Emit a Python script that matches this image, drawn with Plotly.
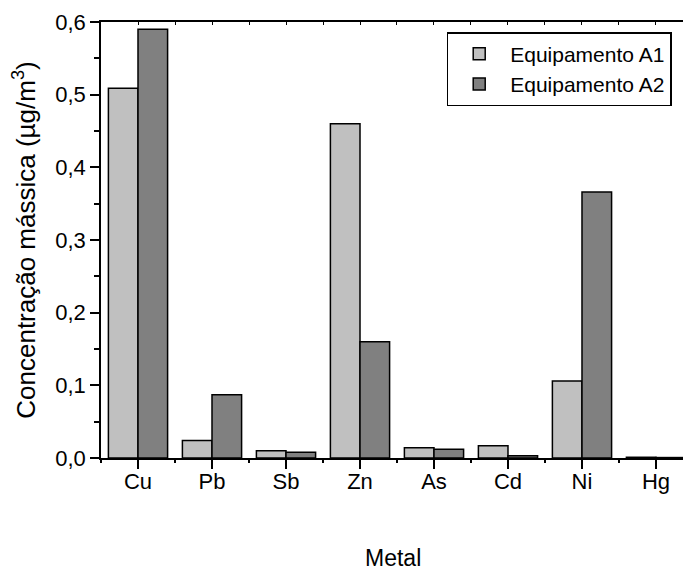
import plotly.graph_objects as go

metals = ["Cu", "Pb", "Sb", "Zn", "As", "Cd", "Ni", "Hg"]
equip_a1 = [0.509, 0.024, 0.010, 0.460, 0.014, 0.017, 0.106, 0.001]
equip_a2 = [0.590, 0.087, 0.008, 0.160, 0.012, 0.003, 0.366, 0.0006]
series_names = ["Equipamento A1", "Equipamento A2"]
y_ticks = [0.0, 0.1, 0.2, 0.3, 0.4, 0.5, 0.6]

font_family = "Liberation Sans"
xr = [-0.5, 7.365]

fig = go.Figure()
fig.add_trace(go.Bar(x=metals, y=equip_a1, name=series_names[0],
                     marker=dict(color="#c0c0c0", line=dict(color="#000000", width=1.5))))
fig.add_trace(go.Bar(x=metals, y=equip_a2, name=series_names[1],
                     marker=dict(color="#808080", line=dict(color="#000000", width=1.5))))

fig.update_layout(
    width=683, height=570,
    margin=dict(l=101, r=0, t=22, b=112, autoexpand=False),
    paper_bgcolor="white", plot_bgcolor="white",
    separators=",.",
    barmode="group", bargap=0.2, bargroupgap=0,
    font=dict(family=font_family, size=22, color="#000000"),
    showlegend=True,
    legend=dict(x=0.594, y=0.977, xanchor="left", yanchor="top",
                bgcolor="white", bordercolor="#000000", borderwidth=1.5,
                font=dict(family=font_family, size=21), tracegroupgap=0,
                itemwidth=52),
    xaxis=dict(type="category", range=xr, showline=True, linecolor="#000000", linewidth=1.5,
               ticks="outside", ticklen=9, tickwidth=1.5, tickcolor="#000000",
               showgrid=False, zeroline=False, mirror=True, automargin=False,
               ticklabelstandoff=-6,
               tickfont=dict(family=font_family, size=22)),
    xaxis2=dict(overlaying="x", anchor="y", side="bottom", range=xr,
                tickvals=[i + 0.5 for i in range(-1, 8)], ticks="outside", ticklen=4,
                tickwidth=1.5, tickcolor="#000000", showticklabels=False,
                showgrid=False, zeroline=False, showline=False, automargin=False),
    xaxis3=dict(overlaying="x", anchor="y", side="top", range=xr,
                tickvals=[i * 0.5 for i in range(-1, 16)], ticks="inside", ticklen=3,
                tickwidth=1, tickcolor="#000000", showticklabels=False,
                showgrid=False, zeroline=False, showline=False, automargin=False),
    yaxis=dict(range=[0, 0.6], tickvals=y_ticks, tickformat=".1f",
               showline=True, linecolor="#000000", linewidth=1.5,
               ticks="outside", ticklen=9, tickwidth=1.5, tickcolor="#000000",
               minor=dict(dtick=0.05, ticks="outside", ticklen=5, tickwidth=1.5, tickcolor="#000000"),
               showgrid=False, zeroline=False, automargin=False,
               title=dict(text="Concentração mássica (µg/m<sup>3</sup>)",
                          font=dict(family=font_family, size=26), standoff=12),
               tickfont=dict(family=font_family, size=22)),
    annotations=[dict(text="Metal", xref="paper", yref="paper", x=0.502, y=-0.229,
                      xanchor="center", yanchor="middle", showarrow=False,
                      font=dict(family=font_family, size=23))],
)

# invisible helpers so the tick-only overlay axes render
fig.add_trace(go.Scatter(x=[0], y=[0], xaxis="x2", mode="markers", marker=dict(opacity=0),
                         showlegend=False, hoverinfo="skip"))
fig.add_trace(go.Scatter(x=[0], y=[0], xaxis="x3", mode="markers", marker=dict(opacity=0),
                         showlegend=False, hoverinfo="skip"))

fig.write_html("out.html", config={"displayModeBar": False},
               post_script="document.body.style.margin='0';")
